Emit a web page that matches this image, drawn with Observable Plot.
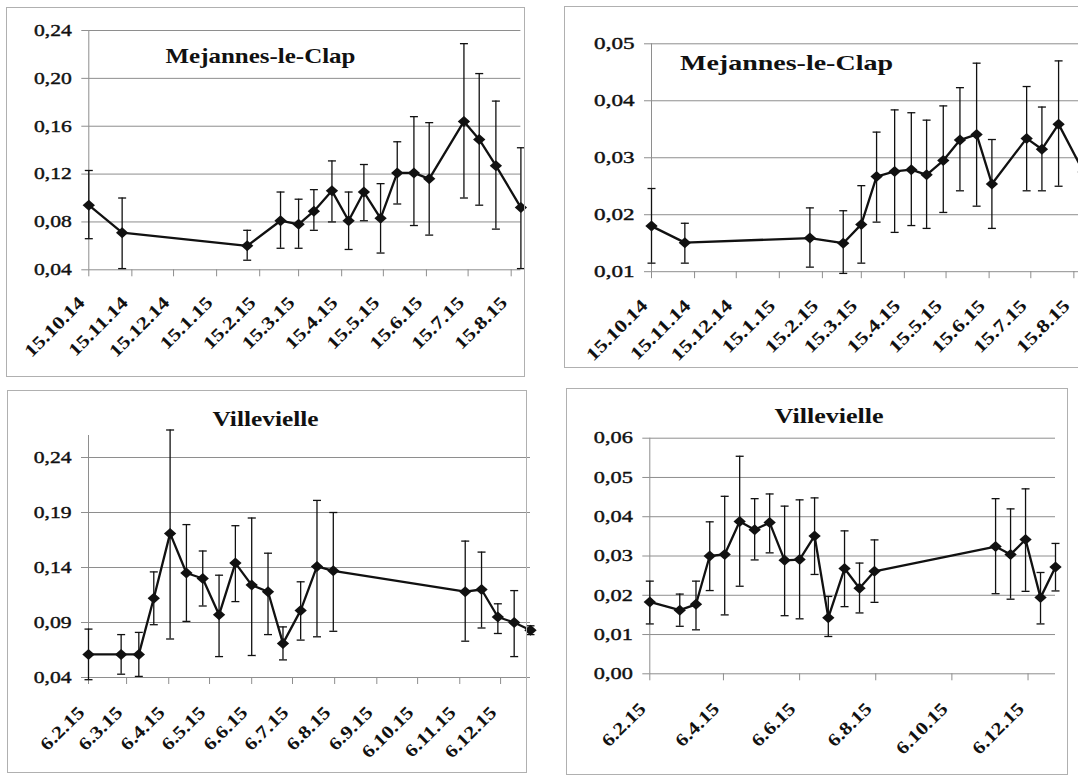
<!DOCTYPE html>
<html><head><meta charset="utf-8">
<script src="https://cdn.jsdelivr.net/npm/d3@7"></script>
<script src="https://cdn.jsdelivr.net/npm/@observablehq/plot@0.6"></script>
<style>
html,body{margin:0;padding:0;width:1078px;height:776px;overflow:hidden;background:#fff;}
.panel{position:absolute;}
.frame{position:absolute;border:1px solid #b0b0b0;box-sizing:border-box;pointer-events:none;}
</style></head><body>
<script>
// ---------------- data ----------------
const mejDates = ["2014-10-15","2014-11-08","2015-02-06","2015-03-02","2015-03-15","2015-03-26","2015-04-08","2015-04-20","2015-05-01","2015-05-13","2015-05-25","2015-06-06","2015-06-17","2015-07-12","2015-07-23","2015-08-04","2015-08-22"];
const mejA   = [0.094,0.071,0.060,0.081,0.078,0.089,0.106,0.081,0.105,0.083,0.121,0.121,0.116,0.164,0.149,0.127,0.092];
const mejALo = [0.066,0.041,0.048,0.058,0.058,0.073,0.080,0.057,0.081,0.054,0.095,0.077,0.069,0.100,0.094,0.074,0.041];
const mejAHi = [0.123,0.100,0.073,0.105,0.099,0.107,0.131,0.105,0.128,0.112,0.147,0.168,0.163,0.229,0.204,0.181,0.142];
const mejB   = [0.0180,0.0151,0.0159,0.0150,0.0183,0.0267,0.0276,0.0279,0.0270,0.0295,0.0331,0.0341,0.0254,0.0334,0.0315,0.0359,0.0275];
const mejBLo = [0.0115,0.0115,0.0108,0.0097,0.0115,0.0187,0.0169,0.0181,0.0176,0.0204,0.0242,0.0215,0.0176,0.0242,0.0242,0.0250,0.0215];
const mejBHi = [0.0246,0.0185,0.0212,0.0207,0.0251,0.0345,0.0384,0.0379,0.0366,0.0391,0.0423,0.0466,0.0332,0.0425,0.0389,0.0470,0.0330];

const vilDates = ["2015-02-06","2015-03-02","2015-03-15","2015-03-26","2015-04-07","2015-04-19","2015-05-01","2015-05-13","2015-05-25","2015-06-06","2015-06-18","2015-06-29","2015-07-12","2015-07-24","2015-08-05","2015-11-10","2015-11-22","2015-12-04","2015-12-16","2015-12-28"];
const vilA   = [0.061,0.061,0.061,0.112,0.171,0.135,0.130,0.097,0.144,0.124,0.118,0.071,0.101,0.141,0.137,0.118,0.120,0.095,0.090,0.083];
const vilALo = [0.038,0.043,0.041,0.088,0.075,0.091,0.105,0.059,0.109,0.060,0.079,0.056,0.074,0.077,0.082,0.073,0.085,0.080,0.059,0.079];
const vilAHi = [0.084,0.079,0.081,0.136,0.265,0.179,0.155,0.133,0.178,0.185,0.153,0.086,0.127,0.201,0.190,0.164,0.154,0.107,0.119,0.087];
const vilB   = [0.0183,0.0162,0.0177,0.0300,0.0304,0.0388,0.0367,0.0385,0.0289,0.0291,0.0351,0.0143,0.0268,0.0218,0.0261,0.0324,0.0304,0.0342,0.0194,0.0272];
const vilBLo = [0.0127,0.0121,0.0112,0.0212,0.0150,0.0223,0.0290,0.0308,0.0148,0.0140,0.0253,0.0095,0.0171,0.0155,0.0182,0.0204,0.0190,0.0210,0.0127,0.0211];
const vilBHi = [0.0236,0.0203,0.0236,0.0387,0.0452,0.0554,0.0446,0.0458,0.0427,0.0443,0.0448,0.0197,0.0364,0.0282,0.0341,0.0446,0.0420,0.0471,0.0258,0.0332];

const mejXTicks  = ["2014-10-15","2014-11-15","2014-12-15","2015-01-15","2015-02-15","2015-03-15","2015-04-15","2015-05-15","2015-06-15","2015-07-15","2015-08-15"];
const vilXTicksA = ["2015-02-06","2015-03-06","2015-04-06","2015-05-06","2015-06-06","2015-07-06","2015-08-06","2015-09-06","2015-10-06","2015-11-06","2015-12-06"];
const vilXTicksB = ["2015-02-06","2015-04-06","2015-06-06","2015-08-06","2015-10-06","2015-12-06"];
const mejYTicksA = [0.04,0.08,0.12,0.16,0.20,0.24];
const mejYTicksB = [0.01,0.02,0.03,0.04,0.05];
const vilYTicksA = [0.04,0.09,0.14,0.19,0.24];
const vilYTicksB = [0.00,0.01,0.02,0.03,0.04,0.05,0.06];
const mejXDomain = ["2014-10-15","2015-08-22"];
const vilXDomain = ["2015-02-06","2015-12-28"];
const titleMej = "Mejannes-le-Clap";
const titleVil = "Villevielle";

// ---------------- drawing ----------------
const GRID = "#8e8e8e", INK = "#111";
const FONT = '"Liberation Serif","Times New Roman",serif';
const capSymbol = {draw(ctx, size){ const r = Math.sqrt(size/Math.PI); ctx.moveTo(-r,0); ctx.lineTo(r,0); }};
const diamondSymbol = {draw(ctx, size){ const r = Math.sqrt(size/Math.PI); ctx.moveTo(0,-r); ctx.lineTo(r*1.12,0); ctx.lineTo(0,r); ctx.lineTo(-r*1.12,0); ctx.closePath(); }};
const fmtY = d => d.toFixed(2).replace(".", ",");
const fmtX = d3.utcFormat("%-d.%-m.%y");

function panel(cfg) {
  const {frame, plot} = cfg;
  const svgW = cfg.svgW || frame.w;
  const data = cfg.dates.map((d,i) => ({date: new Date(d), v: cfg.v[i], lo: cfg.lo[i], hi: cfg.hi[i]}));
  const ticks = cfg.xTicks.map(d => new Date(d));
  const x0 = new Date(cfg.xDomain[0]);
  const chart = Plot.plot({
    width: svgW, height: frame.h,
    marginLeft: plot.x0 - frame.x, marginRight: frame.x + svgW - plot.x1,
    marginTop: plot.y0 - frame.y, marginBottom: frame.y + frame.h - plot.y1,
    style: {fontFamily: FONT, fontSize: "16.5px", background: "transparent", color: INK, maxWidth: "none", overflow: "visible"},
    x: {type: "utc", domain: cfg.xDomain.map(d => new Date(d))},
    y: {domain: cfg.yDomain},
    marks: [
      Plot.gridY(cfg.yTicks, {stroke: GRID, strokeOpacity: 1, strokeWidth: 1}),
      Plot.ruleX([x0], {stroke: GRID, strokeWidth: 1}),
      Plot.axisY(cfg.yTicks, {tickSize: 7, tickPadding: 10, stroke: GRID, fill: INK, tickFormat: fmtY, label: null,
        textStroke: INK, textStrokeWidth: 0.4, textStrokeOpacity: 1}),
      Plot.axisX(ticks, {tickSize: 7, stroke: GRID, tickFormat: () => "", label: null}),
      Plot.text(ticks, {x: d => d, text: fmtX, frameAnchor: "bottom", rotate: -45, textAnchor: "end", lineAnchor: "top",
        dx: -12, dy: cfg.xDy, fontSize: 18, fontWeight: "bold", fill: INK}),
      Plot.ruleX(data, {x: "date", y1: "lo", y2: "hi", stroke: INK, strokeWidth: 1.3}),
      Plot.dot(data, {x: "date", y: "lo", symbol: capSymbol, r: 4, stroke: INK, strokeWidth: 1.3, fill: "none"}),
      Plot.dot(data, {x: "date", y: "hi", symbol: capSymbol, r: 4, stroke: INK, strokeWidth: 1.3, fill: "none"}),
      Plot.line(data, {x: "date", y: "v", stroke: INK, strokeWidth: 2.3}),
      Plot.dot(data, {x: "date", y: "v", symbol: diamondSymbol, r: 5.5, fill: INK, stroke: "none"}),
      Plot.text([cfg.title.text], {text: d => d, frameAnchor: "top-left", dx: cfg.title.cx - plot.x0, dy: cfg.title.base - plot.y0,
        textAnchor: "middle", lineAnchor: "bottom", fontSize: cfg.title.size, fontWeight: "bold", fill: INK})
    ]
  });
  const div = document.createElement("div");
  div.className = "panel";
  div.style.left = frame.x + "px"; div.style.top = frame.y + "px";
  div.style.width = svgW + "px"; div.style.height = frame.h + "px";
  div.appendChild(chart);
  document.body.appendChild(div);
  const fr = document.createElement("div");
  fr.className = "frame";
  fr.style.left = frame.x + "px"; fr.style.top = frame.y + "px";
  fr.style.width = frame.w + "px"; fr.style.height = frame.h + "px";
  document.body.appendChild(fr);
  // horizontal stretch of the texts, as in the reference (classified by content)
  const xSet = new Set(ticks.map(fmtX));
  const ySet = new Set(cfg.yTicks.map(fmtY));
  chart.querySelectorAll("text").forEach(t => {
    const s = t.textContent;
    let len = null;
    if (s === cfg.title.text) len = cfg.title.w;
    else if (xSet.has(s)) len = t.getComputedTextLength() * cfg.xStretch;
    else if (ySet.has(s)) len = t.getComputedTextLength() * cfg.yStretch;
    if (len) {
      t.setAttribute("textLength", len.toFixed(1));
      t.setAttribute("lengthAdjust", "spacingAndGlyphs");
    }
  });
}

panel({dates: mejDates, v: mejA, lo: mejALo, hi: mejAHi, xDomain: mejXDomain, yDomain: [0.04, 0.24],
  xTicks: mejXTicks, yTicks: mejYTicksA, xDy: 25, yStretch: 1.31, xStretch: 1.22,
  frame: {x: 6, y: 7, w: 519, h: 370}, plot: {x0: 88.3, x1: 520.4, y0: 30, y1: 269.3},
  title: {text: titleMej, cx: 260, base: 62, size: 21, w: 190}});

panel({dates: mejDates, v: mejB, lo: mejBLo, hi: mejBHi, xDomain: mejXDomain, yDomain: [0.01, 0.05],
  xTicks: mejXTicks, yTicks: mejYTicksB, xDy: 26, yStretch: 1.4, xStretch: 1.24,
  frame: {x: 564, y: 6, w: 540, h: 362}, plot: {x0: 651, x1: 1083.1, y0: 43.3, y1: 271.2},
  title: {text: titleMej, cx: 786, base: 69, size: 21.5, w: 213}});

panel({dates: vilDates, v: vilA, lo: vilALo, hi: vilAHi, xDomain: vilXDomain, yDomain: [0.04, 0.26],
  xTicks: vilXTicksA, yTicks: vilYTicksA, xDy: 27, yStretch: 1.31, xStretch: 1.2,
  frame: {x: 7, y: 390, w: 520, h: 383}, svgW: 527, plot: {x0: 88, x1: 530, y0: 435, y1: 677},
  title: {text: titleVil, cx: 265, base: 425, size: 21.5, w: 106}});

panel({dates: vilDates, v: vilB, lo: vilBLo, hi: vilBHi, xDomain: vilXDomain, yDomain: [0, 0.06],
  xTicks: vilXTicksB, yTicks: vilYTicksB, xDy: 27, yStretch: 1.35, xStretch: 1.2,
  frame: {x: 566, y: 388, w: 502, h: 387}, plot: {x0: 649.3, x1: 1055, y0: 437.7, y1: 673.3},
  title: {text: titleVil, cx: 828.6, base: 422, size: 21.5, w: 109}});
</script>
</body></html>
